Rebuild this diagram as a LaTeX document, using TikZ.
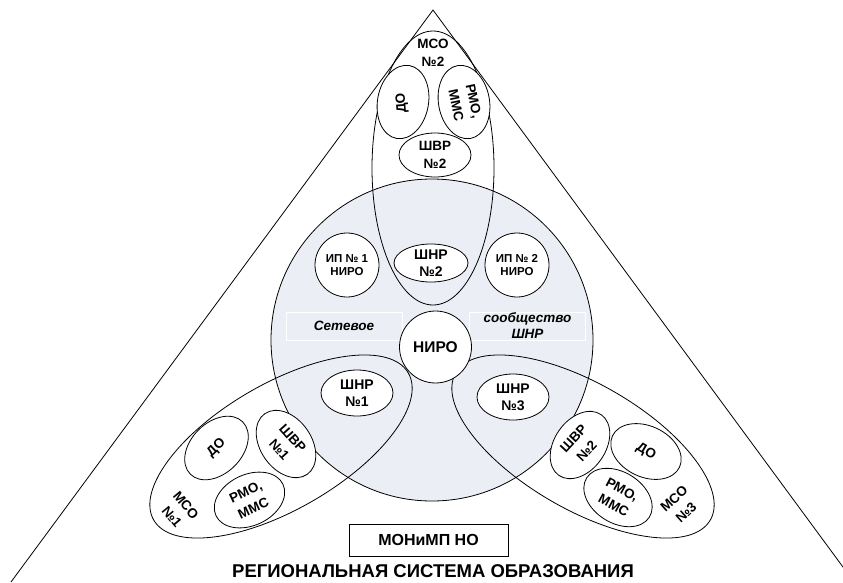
\documentclass[tikz,border=0pt]{standalone}
\usepackage{fontspec}
\setmainfont{Liberation Sans}
\usetikzlibrary{shapes.geometric}
\definecolor{circfill}{RGB}{235,239,245}
\begin{document}
\begin{tikzpicture}[x=1pt,y=-1pt,
  line width=0.8pt,
  ell/.style={ellipse, draw, inner sep=0pt, outer sep=0pt},
  circ/.style={circle, draw, inner sep=0pt, outer sep=0pt},
  wf/.style={fill=white},
  lbl/.style={font=\bfseries\fontsize{13.5}{18}\selectfont, align=center, inner sep=0pt},
  shnr/.style={font=\bfseries\fontsize{14}{17}\selectfont, align=center, inner sep=0pt},
  ip/.style={font=\bfseries\fontsize{11.5}{13.5}\selectfont, align=center, inner sep=0pt},
  itl/.style={font=\bfseries\itshape\fontsize{13.5}{15.5}\selectfont, align=center, inner sep=0pt},
  tbox/.style={draw=white, inner sep=0pt, minimum width=116pt, minimum height=28pt},
  small/.style={ell, wf, minimum width=74pt, minimum height=51pt},
]
\useasboundingbox (0,0) rectangle (843,582);
% triangle
\begin{scope}
\clip (0,0) rectangle (843,582);
\coordinate (apex) at (433,10);
\coordinate (bl) at (11,582);
\coordinate (br) at (854,582);
\draw (bl) -- (apex) -- (br);
\end{scope}

% big circle
\node[circ, fill=circfill, minimum size=322pt] (big) at (432,340) {};

% MSO ellipses (outlines only)
\node[ell, minimum width=122pt, minimum height=274pt] (mso2) at (433,168) {};
\node[ell, minimum width=294pt, minimum height=126pt, rotate=30] (mso1) at (281,446.5) {};
\node[ell, minimum width=294pt, minimum height=126pt, rotate=-30] (mso3) at (583,446.5) {};

% text boxes
\node[tbox] (boxl) at (344,326) {};
\node[itl] (tl) at (boxl.center) {Сетевое};
\node[tbox] (boxr) at (527.5,326) {};
\node[itl] (tr) at (527.5,325.5) {сообщество\\ШНР};

% centre
\node[circ, wf, minimum size=72pt] (niro) at (435.5,347) {};
\node[font=\bfseries\fontsize{15.5}{17}\selectfont, inner sep=0pt] (tniro) at (niro.center) {НИРО};
\node[circ, wf, minimum size=64pt] (ip1) at (347,265) {};
\node[ip] (tip1) at (ip1.center) {ИП № 1\\НИРО};
\node[circ, wf, minimum size=64pt] (ip2) at (517,265) {};
\node[ip] (tip2) at (ip2.center) {ИП № 2\\НИРО};

% SHNR ellipses
\node[ell, wf, minimum width=74pt, minimum height=38pt] (shnr2) at (431,263) {};
\node[shnr] (tshnr2) at (shnr2.center) {ШНР\\№2};
\node[ell, wf, minimum width=72pt, minimum height=46pt] (shnr1) at (357,393) {};
\node[shnr] (tshnr1) at (shnr1.center) {ШНР\\№1};
\node[ell, wf, minimum width=72pt, minimum height=46pt] (shnr3) at (513,397) {};
\node[shnr] (tshnr3) at (shnr3.center) {ШНР\\№3};

% MSO 2 (top)
\node[lbl] (tmso2) at (433,53) {МСО\\№2};
\node[small, rotate=80] (do2) at (403,102) {};
\node[lbl, rotate=95] (tdo2) at (402,103) {ДО};
\node[small, rotate=-80] (rmo2) at (464,102) {};
\node[lbl, rotate=-78] (trmo2) at (465,103) {РМО,\\ММС};
\node[ell, wf, minimum width=72pt, minimum height=44pt] (shvr2) at (435,155) {};
\node[lbl] (tshvr2) at (shvr2.center) {ШВР\\№2};

% MSO 1 (left)
\node[small, rotate=45] (do1) at (216.5,448) {};
\node[lbl, rotate=43] (tdo1) at (do1.center) {ДО};
\node[small, rotate=-55] (shvr1) at (286,444) {};
\node[lbl, rotate=-48] (tshvr1) at (shvr1.center) {ШВР\\№1};
\node[small, rotate=25] (rmo1) at (249.5,500) {};
\node[lbl, rotate=25] (trmo1) at (rmo1.center) {РМО,\\ММС};
\node[lbl, rotate=-50] (tmso1) at (179,511) {МСО\\№1};

% MSO 3 (right)
\node[small, rotate=55] (shvr3) at (580,445) {};
\node[lbl, rotate=47] (tshvr3) at (shvr3.center) {ШВР\\№2};
\node[small, rotate=-25] (do3) at (646,451.5) {};
\node[lbl, rotate=-30] (tdo3) at (do3.center) {ДО};
\node[small, rotate=-32] (rmo3) at (618,497.5) {};
\node[lbl, rotate=-28] (trmo3) at (rmo3.center) {РМО,\\ММС};
\node[lbl, rotate=42] (tmso3) at (680,505.5) {МСО\\№3};

% bottom
\node[draw, inner sep=0pt, minimum width=159pt, minimum height=32pt, font=\bfseries\fontsize{16}{18}\selectfont] (mon) at (428.5,540) {МОНиМП НО};
\node[font=\bfseries\fontsize{18.5}{20}\selectfont, inner sep=0pt] (reg) at (433,571) {РЕГИОНАЛЬНАЯ СИСТЕМА ОБРАЗОВАНИЯ};
\end{tikzpicture}
\end{document}
